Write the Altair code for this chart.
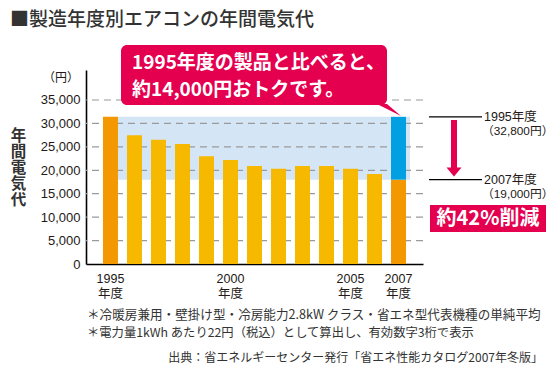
import altair as alt
import pandas as pd

# ---------------- data ----------------
years = ["1995", "1996", "1997", "1998", "1999", "2000", "2001",
         "2002", "2003", "2004", "2005", "2006", "2007"]
costs = [31400, 27500, 26500, 25600, 23000, 22200, 20900,
         20300, 20900, 20900, 20300, 19200, 18000]
label_years = ["1995", "2000", "2005", "2007"]
y_ticks = [0, 5000, 10000, 15000, 20000, 25000, 30000, 35000]
grid_values = [5000, 10000, 15000, 20000, 25000, 30000, 35000]

title_text = "■製造年度別エアコンの年間電気代"
y_title = "年間電気代"
unit_text = "（円）"
callout_lines = ["1995年度の製品と比べると、", "約14,000円おトクです。"]
ref_labels = ["1995年度", "2007年度"]
ref_values = ["（32,800円）", "（19,000円）"]
badge_text = "約42%削減"
notes = ["＊冷暖房兼用・壁掛け型・冷房能力2.8kW クラス・省エネ型代表機種の単純平均",
         "＊電力量1kWh あたり22円（税込）として算出し、有効数字3桁で表示"]
source_text = "出典：省エネルギーセンター発行「省エネ性能カタログ2007年冬版」"

# colours
YELLOW = "#f7b800"
ORANGE = "#f39800"
BLUE = "#00a0e2"
BAND = "#d4e6f6"
MAGENTA = "#e4004f"
INK = "#231815"
FONT = "Liberation Sans, Noto Sans CJK JP, sans-serif"
JFONT = "Noto Sans CJK JP, Liberation Sans, sans-serif"

# ---------------- tables ----------------
rows = []
for yr, c in zip(years, costs):
    kind = "edge" if yr in ("1995", "2007") else "mid"
    rows.append({"year": yr, "low": 0, "high": c, "kind": kind})
rows.append({"year": years[-1], "low": costs[-1], "high": costs[0], "kind": "diff"})
bars_df = pd.DataFrame(rows)

band_df = pd.DataFrame([{"top": costs[0], "bottom": costs[-1]}])
grid_df = pd.DataFrame({"v": grid_values})
ref_df = pd.DataFrame({"v": [costs[0], costs[-1]], "l1": ref_labels, "l2": ref_values})
one = alt.Data(values=[{}])

W, H = 337, 194

x_scale = alt.Scale(domain=years, paddingInner=0.375, paddingOuter=0.7075)
y_scale = alt.Scale(domain=[0, 41400], nice=False)

label_expr = ("indexof(" + str(label_years) + ", datum.label) >= 0 ? "
              "[datum.label, '年度'] : ''")

y_axis = alt.Axis(title=None, values=y_ticks, format=",d",
                  ticks=False, grid=False, labelFont=FONT,
                  labelFontSize=13, labelColor=INK, labelPadding=6,
                  domainColor="#000000", domainWidth=1.6)


def Y(field):
    return alt.Y(field, scale=y_scale, axis=y_axis)


band = alt.Chart(band_df).mark_rect(color=BAND).encode(
    x=alt.value(32), x2=alt.value(324), y=Y("top:Q"), y2="bottom:Q")

grid = alt.Chart(grid_df).mark_rule(color="#9a9a9a", strokeWidth=1.2,
                                     strokeDash=[7, 5]).encode(y=Y("v:Q"))

bars = alt.Chart(bars_df).mark_bar(size=15).encode(
    x=alt.X("year:N", scale=x_scale, sort=years,
            axis=alt.Axis(title=None, ticks=False, labelAngle=0,
                          labelExpr=label_expr, labelFont=FONT,
                          labelFontSize=12.5, labelColor=INK,
                          labelPadding=8, labelLineHeight=15,
                          domainColor="#000000", domainWidth=1.6)),
    y=Y("low:Q"), y2="high:Q",
    color=alt.Color("kind:N", legend=None,
                    scale=alt.Scale(domain=["edge", "mid", "diff"],
                                    range=[ORANGE, YELLOW, BLUE])))

# callout box with pointer
callout_box = alt.Chart(one).mark_rect(color=MAGENTA, cornerRadius=6).encode(
    x=alt.value(35), x2=alt.value(301), y=alt.value(-25), y2=alt.value(35))
pointer = alt.Chart(one).mark_point(
    shape="M-1,-0.5L-0.1667,-0.5L1,0.5Z", filled=True, opacity=1,
    strokeWidth=0, size=576, color=MAGENTA).encode(
    x=alt.value(303), y=alt.value(40))
callout1 = alt.Chart(one).mark_text(
    align="left", baseline="middle", font=JFONT, fontSize=19,
    fontWeight="bold", color="white").encode(
    x=alt.value(46), y=alt.value(-7), text=alt.value(callout_lines[0]))
callout2 = alt.Chart(one).mark_text(
    align="left", baseline="middle", font=JFONT, fontSize=19,
    fontWeight="bold", color="white").encode(
    x=alt.value(46), y=alt.value(20), text=alt.value(callout_lines[1]))

# right-hand reference lines
ref_rules = alt.Chart(ref_df).mark_rule(color="#000000", strokeWidth=1.2).encode(
    x=alt.value(343), x2=alt.value(396), y=Y("v:Q"))
ref_t1 = alt.Chart(ref_df).mark_text(
    align="left", baseline="middle", font=FONT, fontSize=12.5, color=INK).encode(
    x=alt.value(398), y=Y("v:Q"), text="l1:N")
ref_t2 = alt.Chart(ref_df).mark_text(
    align="left", baseline="middle", font=FONT, fontSize=11.8, color=INK,
    dy=14, dx=-2).encode(
    x=alt.value(398), y=Y("v:Q"), text="l2:N")

arrow_shaft = alt.Chart(one).mark_rule(color=MAGENTA, strokeWidth=6).encode(
    x=alt.value(368), y=alt.value(50), y2=alt.value(99))
arrow_head = alt.Chart(one).mark_point(
    shape="M-1,-0.6L1,-0.6L0,0.6Z", filled=True, opacity=1, strokeWidth=0,
    size=225, color=MAGENTA).encode(x=alt.value(368), y=alt.value(102))

badge = alt.Chart(one).mark_rect(color=MAGENTA).encode(
    x=alt.value(344), x2=alt.value(460), y=alt.value(135), y2=alt.value(162))
badge_t = alt.Chart(one).mark_text(
    align="center", baseline="middle", font=JFONT, fontSize=20,
    fontWeight="bold", color="white").encode(
    x=alt.value(402), y=alt.value(149), text=alt.value(badge_text))

# titles and notes
title = alt.Chart(one).mark_text(
    align="left", baseline="middle", font=JFONT, fontSize=19,
    fontWeight=500, color="#333333").encode(
    x=alt.value(-76), y=alt.value(-50), text=alt.value(title_text))
ytitle = alt.Chart(one).mark_text(
    align="center", baseline="middle", font=JFONT, fontSize=15.5,
    fontWeight="bold", color="#333333", lineHeight=16).encode(
    x=alt.value(-67.5), y=alt.value(66), text=alt.value(list(y_title)))
unit = alt.Chart(one).mark_text(
    align="center", baseline="middle", font=JFONT, fontSize=12,
    color=INK).encode(x=alt.value(-25), y=alt.value(8), text=alt.value(unit_text))
note1 = alt.Chart(one).mark_text(
    align="left", baseline="middle", font=JFONT, fontSize=12.6, color="#333333").encode(
    x=alt.value(1), y=alt.value(245), text=alt.value(notes[0]))
note2 = alt.Chart(one).mark_text(
    align="left", baseline="middle", font=JFONT, fontSize=12.3, color="#333333").encode(
    x=alt.value(1), y=alt.value(263), text=alt.value(notes[1]))
source = alt.Chart(one).mark_text(
    align="right", baseline="middle", font=JFONT, fontSize=12, color="#333333").encode(
    x=alt.value(457), y=alt.value(288), text=alt.value(source_text))

chart = alt.layer(
    band, grid, bars, callout_box, pointer, callout1, callout2,
    ref_rules, ref_t1, ref_t2, arrow_shaft, arrow_head, badge, badge_t,
    title, ytitle, unit, note1, note2, source
).properties(
    width=W, height=H,
    autosize=alt.AutoSizeParams(type="none"),
    padding={"left": 78, "top": 62, "right": 129, "bottom": 102},
    background="white"
).configure_view(stroke=None)

chart.save("out.html", embed_options={"renderer": "svg", "actions": False})
